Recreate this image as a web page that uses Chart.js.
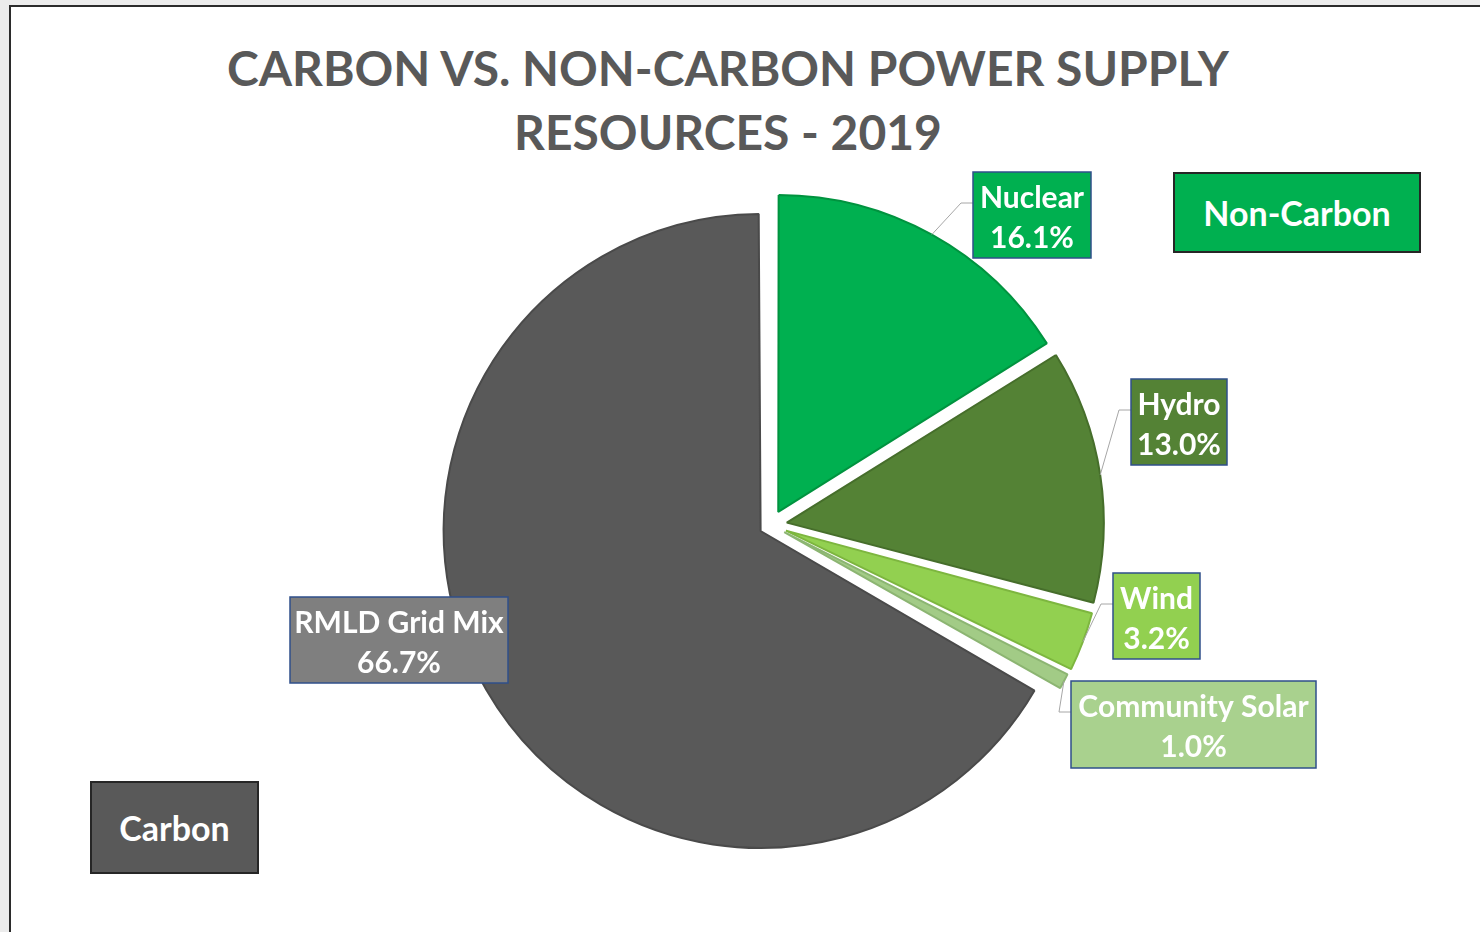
<!DOCTYPE html>
<html>
<head>
<meta charset="utf-8">
<script src="https://cdn.jsdelivr.net/npm/chart.js@4.4.1/dist/chart.umd.min.js"></script>
<style>
    html, body { margin: 0; padding: 0; background: #ececec; width: 1480px; height: 932px; overflow: hidden; }
    #frame { position: absolute; left: 9px; top: 5px; width: 1520px; height: 980px; background: #fff;
             border-left: 2px solid #2b2b2b; border-top: 2px solid #2b2b2b; }
    #title { position: absolute; left: 0; top: 36px; width: 1456px; text-align: center;
             font: bold 48px Lato, sans-serif; color: #595959; line-height: 64px; }
    #myChart { position: absolute; left: 0; top: 0; }
    .tag { position: absolute; box-sizing: border-box; color: #fff; font: bold 34px Lato, sans-serif;
           display: flex; align-items: center; justify-content: center; border: 2px solid #262626; }
</style>
</head>
<body>
<div id="frame"></div>
<div id="title">CARBON VS. NON-CARBON POWER SUPPLY<br>RESOURCES - 2019</div>
<div class="tag" style="left:90px;top:781px;width:169px;height:93px;background:#595959;">Carbon</div>
<div class="tag" style="left:1173px;top:172px;width:248px;height:81px;background:#00b050;">Non-Carbon</div>
<canvas id="myChart" width="1480" height="932"></canvas>
<script>
    // data
    const sliceLabels = ["Nuclear", "Hydro", "Wind", "Community Solar", "RMLD Grid Mix"];
    const sliceShares = [16.1, 13.0, 3.2, 1.0, 66.7];

    // styles
    const sliceColors  = ["#00b050", "#548235", "#92d050", "#a2cb86", "#595959"];
    const sliceBorders = ["#00933f", "#466e2b", "#7db63f", "#8cb572", "#4a4a4a"];
    const sliceOffsets = [60, 64, 64, 60, 48];
    const pieRadius = 317;
    const labelFills   = ["#00b050", "#548235", "#92d050", "#a9d18e", "#7f7f7f"];
    const labelBoxes   = [
        {x: 973,  y: 172, w: 118, h: 86},
        {x: 1131, y: 379, w: 96,  h: 86},
        {x: 1113, y: 573, w: 87,  h: 86},
        {x: 1071, y: 681, w: 245, h: 87},
        {x: 290,  y: 597, w: 218, h: 86}
    ];
    const showLeader = [true, true, true, true, false];

    // chart.js grows an offset arc's radius; undo that so every slice keeps the same size
    const evenRadius = {
        id: "evenRadius",
        afterDatasetUpdate(chart, args) {
            args.meta.data.forEach((arc, i) => {
                const off = sliceOffsets[i] / 4;
                const fix = 1 - Math.sin(Math.min(Math.PI, arc.circumference));
                arc.outerRadius = pieRadius - off * fix;
            });
        }
    };

    const boxLabels = {
        id: "boxLabels",
        afterDatasetsDraw(chart) {
            const ctx = chart.ctx;
            const meta = chart.getDatasetMeta(0);
            meta.data.forEach((arc, i) => {
                const p = arc.getProps(["x", "y", "startAngle", "endAngle", "outerRadius", "circumference"], true);
                const b = labelBoxes[i];
                const mid = (p.startAngle + p.endAngle) / 2;
                const off = sliceOffsets[i] / 4;
                const fix = 1 - Math.sin(Math.min(Math.PI, p.circumference));
                const r = off + p.outerRadius + off * fix;
                const ax = p.x + Math.cos(mid) * r;
                const ay = p.y + Math.sin(mid) * r;

                ctx.save();
                if (showLeader[i]) {
                    ctx.strokeStyle = "#a6a6a6";
                    ctx.lineWidth = 1;
                    ctx.beginPath();
                    ctx.moveTo(b.x, b.y + 31);
                    ctx.lineTo(b.x - 12, b.y + 31);
                    ctx.lineTo(ax, ay);
                    ctx.stroke();
                }
                ctx.fillStyle = labelFills[i];
                ctx.fillRect(b.x, b.y, b.w, b.h);
                ctx.strokeStyle = "#2f4f8a";
                ctx.lineWidth = 1.5;
                ctx.strokeRect(b.x, b.y, b.w, b.h);

                ctx.fillStyle = "#ffffff";
                ctx.font = "bold 30px Lato, sans-serif";
                ctx.textAlign = "center";
                ctx.textBaseline = "middle";
                ctx.fillText(sliceLabels[i], b.x + b.w / 2, b.y + 26);
                ctx.fillText(sliceShares[i].toFixed(1) + "%", b.x + b.w / 2, b.y + 66);
                ctx.restore();
            });
        }
    };

    var ctx = document.getElementById("myChart");

    var myChart = new Chart(ctx, {
        type: "pie",
        data: {
            labels: sliceLabels,
            datasets: [{
                data: sliceShares,
                backgroundColor: sliceColors,
                borderColor: sliceBorders,
                borderWidth: 2,
                offset: sliceOffsets
            }]
        },
        options: {
            responsive: false,
            animation: false,
            events: [],
            radius: pieRadius,
            layout: {
                padding: {left: 62, right: 0, top: 118, bottom: 0}
            },
            plugins: {
                legend: { display: false },
                tooltip: { enabled: false },
                title: { display: false }
            }
        },
        plugins: [evenRadius, boxLabels]
    });
</script>
</body>
</html>
